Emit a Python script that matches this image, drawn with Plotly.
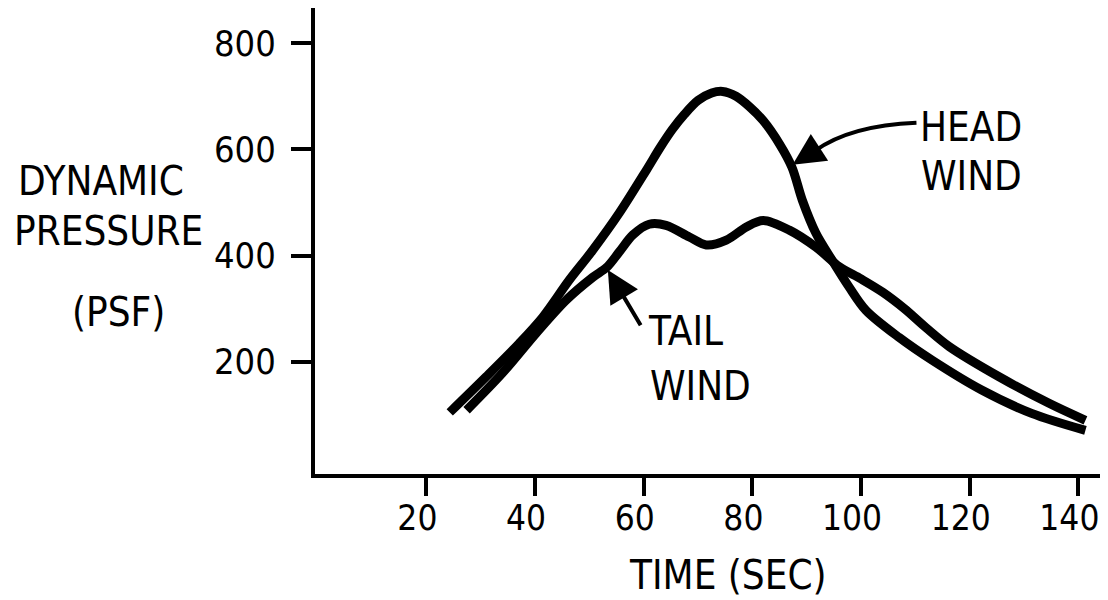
import plotly.graph_objects as go

# ---- data ----
head_time = [24.3, 31.0, 37.1, 41.4, 46.3, 50.6, 55.5, 60.5, 63.0, 65.3, 67.5, 70.0, 72.5, 74.5,
             77.0, 79.5, 82.0, 85.0, 87.3, 89.2, 91.7, 94.7, 97.8, 100.9, 107.0, 113.1, 122.2,
             131.4, 141.3]
head_q = [105, 172, 235, 284, 354, 410, 480, 561, 603, 638, 666, 692, 706, 709,
          700, 680, 654, 610, 566, 504, 442, 391, 341, 297, 246, 203, 147,
          103, 71]

tail_time = [27.4, 34.0, 40.2, 45.7, 50.6, 53.2, 55.5, 58.0, 61.0, 64.1, 68.4, 71.5, 75.2, 78.9,
             82.0, 86.8, 91.7, 96.0, 100.0, 104.0, 108.0, 112.0, 116.2, 125.4, 134.6, 141.3]
tail_q = [109, 179, 254, 316, 359, 378, 407, 439, 459, 457, 435, 420, 429, 454,
          466, 448, 416, 379, 356, 331, 300, 264, 229, 172, 122, 90]

x_ticks = [20, 40, 60, 80, 100, 120, 140]
y_ticks = [200, 400, 600, 800]

FONT = "Liberation Sans Narrow, DejaVu Sans Condensed, Arial Narrow, sans-serif"

fig = go.Figure()
line_style = dict(color="black", width=9, shape="spline", smoothing=0.9)
fig.add_trace(go.Scatter(x=head_time, y=head_q, mode="lines", line=line_style,
                         name="HEAD WIND", showlegend=False, hoverinfo="skip"))
fig.add_trace(go.Scatter(x=tail_time, y=tail_q, mode="lines", line=line_style,
                         name="TAIL WIND", showlegend=False, hoverinfo="skip"))

# the page body adds an 8px offset, so the figure is sized to fit the window
fig.update_layout(
    template="none",
    width=1100, height=592,
    margin=dict(l=307, r=3, t=0, b=126, autoexpand=False),
    paper_bgcolor="white", plot_bgcolor="white",
    font=dict(family=FONT, color="black", size=40),
    xaxis=dict(range=[-0.5, 144.9], tickvals=x_ticks, ticktext=[str(v) for v in x_ticks],
               automargin=False, ticklabeloverflow="allow", ticklabelshift=-9,
               ticklabelstandoff=-8,
               showgrid=False, zeroline=False, showline=True, linewidth=4, linecolor="black",
               ticks="outside", ticklen=18, tickwidth=4, tickcolor="black",
               tickfont=dict(family=FONT, size=35), fixedrange=True),
    yaxis=dict(range=[-11, 866], tickvals=y_ticks, ticktext=[str(v) for v in y_ticks],
               automargin=False, ticklabeloverflow="allow", ticklabelstandoff=8,
               showgrid=False, zeroline=False, showline=True, linewidth=4, linecolor="black",
               ticks="outside", ticklen=20, tickwidth=4, tickcolor="black",
               tickfont=dict(family=FONT, size=36), fixedrange=True),
)

txt = dict(family=FONT, size=40, color="black")
# axis titles as free text
fig.add_annotation(text="DYNAMIC", xref="paper", yref="paper", x=-0.271, y=0.629,
                   showarrow=False, font=txt, xanchor="center", yanchor="middle")
fig.add_annotation(text="PRESSURE", xref="paper", yref="paper", x=-0.262, y=0.521,
                   showarrow=False, font=txt, xanchor="center", yanchor="middle")
fig.add_annotation(text="(PSF)", xref="paper", yref="paper", x=-0.249, y=0.348,
                   showarrow=False, font=txt, xanchor="center", yanchor="middle")
fig.add_annotation(text="TIME (SEC)", xref="paper", yref="paper", x=0.523, y=-0.217,
                   showarrow=False, font=dict(family=FONT, size=40, color="black"),
                   xanchor="center", yanchor="middle")

# curve labels
fig.add_annotation(text="HEAD", x=110.4, y=642, showarrow=False, font=txt,
                   xanchor="left", yanchor="middle")
fig.add_annotation(text="WIND", x=110.6, y=550, showarrow=False, font=txt,
                   xanchor="left", yanchor="middle")
fig.add_annotation(text="TAIL", x=60.5, y=258, showarrow=False, font=txt,
                   xanchor="left", yanchor="middle")
fig.add_annotation(text="WIND", x=60.7, y=155, showarrow=False, font=txt,
                   xanchor="left", yanchor="middle")

# head wind pointer: curved shaft + arrow head
fig.add_shape(type="path", xref="x", yref="y",
              path="M 110.2,650 Q 98,645 91.5,597",
              line=dict(color="black", width=4))
fig.add_annotation(x=87.4, y=571, ax=91.8, ay=600, xref="x", yref="y", axref="x", ayref="y",
                   text="", showarrow=True, arrowhead=2, arrowsize=1.6, arrowwidth=4,
                   arrowcolor="black")
# tail wind pointer
fig.add_annotation(x=53.4, y=373, ax=59.6, ay=266, xref="x", yref="y", axref="x", ayref="y",
                   text="", showarrow=True, arrowhead=2, arrowsize=1.6, arrowwidth=4,
                   arrowcolor="black")

fig.write_html("out.html")
